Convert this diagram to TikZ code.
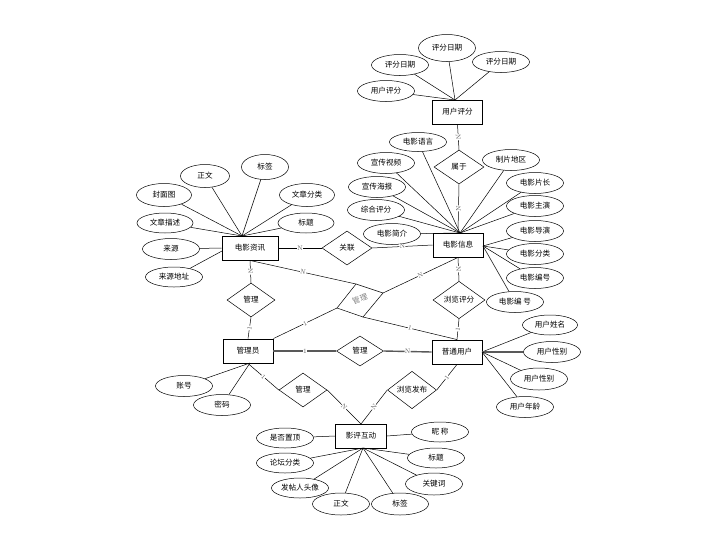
\documentclass[tikz,border=0pt]{standalone}
\usepackage{fontspec}
\newfontfamily\cjk{Noto Sans CJK SC}
\usetikzlibrary{shapes.geometric}
\begin{document}
\begin{tikzpicture}[x=1pt,y=-1pt,
  font=\cjk\fontsize{7.6}{9}\selectfont,
  ent/.style={draw, line width=0.9pt, minimum width=50pt, minimum height=24pt, inner sep=0pt},
  att/.style={draw, ellipse, line width=0.5pt, minimum width=57pt, minimum height=21pt, inner sep=0pt},
  rel/.style={draw, diamond, line width=0.5pt, minimum width=50pt, minimum height=34pt, inner sep=0pt},
  ln/.style={line width=0.5pt},
  tk/.style={line width=1.4pt, draw=black!65},
  card/.style={font=\fontsize{6.5}{7}\selectfont, text=black!65, fill=white, inner sep=0.3pt, sloped, pos=0.5}
]
\useasboundingbox (0,0) rectangle (702,539);

% ---------- 用户评分 ----------
\node[ent] (yhpf) at (457.5,112) {用户评分};
\node[att, minimum height=27pt] (a1) at (447,48) {评分日期};
\node[att] (a2) at (400,65) {评分日期};
\node[att] (a3) at (501,62) {评分日期};
\node[att] (a4) at (386,91) {用户评分};
\coordinate (h1) at (455,100);
\foreach \n in {a1,a2,a3,a4} \draw[ln] (\n) -- (h1);

\node[rel] (shuyu) at (459,167) {属于};

% ---------- 电影信息 ----------
\node[ent] (xx) at (458,245) {电影信息};
\node[att, minimum height=19pt] (b1) at (418,142) {电影语言};
\node[att] (b2) at (386,163) {宣传视频};
\node[att] (b3) at (377,187) {宣传海报};
\node[att] (b4) at (376,210) {综合评分};
\node[att] (b5) at (392,234) {电影简介};
\node[att] (b6) at (511,160) {制片地区};
\node[att] (b7) at (535,183) {电影片长};
\node[att] (b8) at (535,206) {电影主演};
\node[att] (b9) at (535,231) {电影导演};
\node[att] (b10) at (535,254) {电影分类};
\node[att] (b11) at (535,278) {电影编号};
\node[att] (b12) at (515,302) {电影编 号};
\coordinate (xxh) at (460,233);
\coordinate (xxr) at (483,246);
\foreach \n in {b1,b2,b3,b4,b5,b6,b7,b8} \draw[ln] (\n) -- (xxh);
\foreach \n in {b9,b10,b11,b12} \draw[ln] (\n) -- (xxr);

% ---------- 电影资讯 ----------
\node[ent, minimum width=56pt] (zx) at (250,248) {电影资讯};
\node[att, minimum width=49pt, minimum height=23pt] (c1) at (205,176) {正文};
\node[att, minimum width=47pt, minimum height=25pt] (c2) at (265,167) {标签};
\node[att, minimum width=55pt, minimum height=23pt] (c3) at (164,195) {封面图};
\node[att, minimum width=55pt, minimum height=23pt] (c4) at (307,195) {文章分类};
\node[att, minimum width=56pt, minimum height=20pt] (c5) at (165,223) {文章描述};
\node[att, minimum width=56pt, minimum height=20pt] (c6) at (306,223) {标题};
\node[att] (c7) at (171,249) {来源};
\node[att, minimum height=20pt] (c8) at (174,277) {来源地址};
\coordinate (zxh) at (242,236);
\coordinate (zxl) at (222,251);
\foreach \n in {c1,c2,c3,c4,c5,c6} \draw[ln] (\n) -- (zxh);
\draw[ln] (c7) -- (zx.west);
\draw[ln] (c8) -- (zxl);

% ---------- relations ----------
\node[rel] (guanlian) at (347,248) {关联};
\node[rel, minimum width=48pt] (gl1) at (251,300) {管理};
\node[ent] (gly) at (248,351) {管理员};
\node[rel, minimum width=47pt, minimum height=30pt] (gl2) at (360,351) {管理};
\node[ent] (pt) at (457,352) {普通用户};
\node[rel, minimum width=52pt] (llpf) at (459,300) {浏览评分};
\node[rel, minimum width=48pt] (gl3) at (303,390) {管理};
\node[rel, minimum width=49pt] (llfb) at (412,390) {浏览发布};

% skewed 管理
\coordinate (qT) at (356,284);
\coordinate (qR) at (383,293);
\coordinate (qB) at (363,317);
\coordinate (qL) at (337,308);
\draw[ln] (qT) -- (qR) -- (qB) -- (qL) -- cycle;
\node[rotate=20, text=black!50, inner sep=0pt] (glx) at (360,299) {管\hspace{0.5pt}理};

% connectors with cardinalities
\draw[ln] (yhpf.south) -- node[card] {N} (shuyu.north);
\draw[ln] (shuyu.south) -- node[card] {N} (xx.north);
\draw[ln] (zx.east) -- node[card] {N} (guanlian.west);
\draw[ln] (guanlian.east) -- node[card] {N} (xx.west);
\draw[ln] (zx.south) -- node[card] {N} (gl1.north);
\draw[ln] (gl1.south) -- node[card] {1} (gly.north);
\draw[ln] (zx.south) -- node[card] {N} (qT);
\draw[ln] (qR) -- node[card] {N} (xx.south);
\draw[ln] (gly.north east) -- node[card] {1} (qL);
\draw[ln] (qB) -- node[card] {1} (pt.north);
\draw[ln] (xx.south) -- node[card] {N} (llpf.north);
\draw[ln] (llpf.south) -- node[card] {1} (pt.north);
\draw[tk] (gly.east) -- node[card] {1} (gl2.west);
\draw[tk] (gl2.east) -- node[card] {N} (pt.west);
\draw[ln] (gly.south) -- node[card] {1} (gl3.west);
\draw[ln] (gl3.east) -- node[card] {N} (361,424) coordinate (ypt);
\draw[ln] (pt.south) -- node[card] {1} (llfb.east);
\draw[ln] (llfb.west) -- node[card] {N} (ypt);

% ---------- 影评互动 ----------
\node[ent, minimum width=51pt] (yp) at (361,436) {影评互动};
\node[att, minimum height=20pt] (d1) at (285,438) {是否置顶};
\node[att, minimum height=20pt] (d2) at (285,463) {论坛分类};
\node[att, minimum height=20pt] (d3) at (300,488) {发帖人头像};
\node[att, minimum height=22pt] (d4) at (341,504) {正文};
\node[att, minimum height=22pt] (d5) at (400,504) {标签};
\node[att, minimum height=22pt] (d6) at (434,484) {关键词};
\node[att, minimum height=20pt] (d7) at (436,458) {标题};
\node[att, minimum height=20pt] (d8) at (440,432) {昵 称};
\coordinate (yph) at (363,448);
\draw[ln] (d1) -- (yp.west);
\draw[ln] (d8) -- (yp.east);
\foreach \n in {d2,d3,d4,d5,d6,d7} \draw[ln] (\n) -- (yph);

% ---------- 管理员 attributes ----------
\node[att] (e1) at (184,386) {账号};
\node[att] (e2) at (222,405) {密码};
\coordinate (glyh) at (250,363);
\draw[ln] (e1) -- (glyh);
\draw[ln] (e2) -- (glyh);

% ---------- 普通用户 attributes ----------
\node[att, minimum width=55pt, minimum height=20pt] (f1) at (550,325) {用户姓名};
\node[att] (f2) at (552,352) {用户性别};
\node[att, minimum height=22pt] (f3) at (539,379) {用户性别};
\node[att] (f4) at (525,407) {用户年龄};
\coordinate (pth) at (482,352);
\draw[ln] (f1) -- (pth);
\draw[tk] (f2) -- (pth);
\draw[ln] (f3) -- (pth);
\draw[ln] (f4) -- (pth);
\end{tikzpicture}
\end{document}
